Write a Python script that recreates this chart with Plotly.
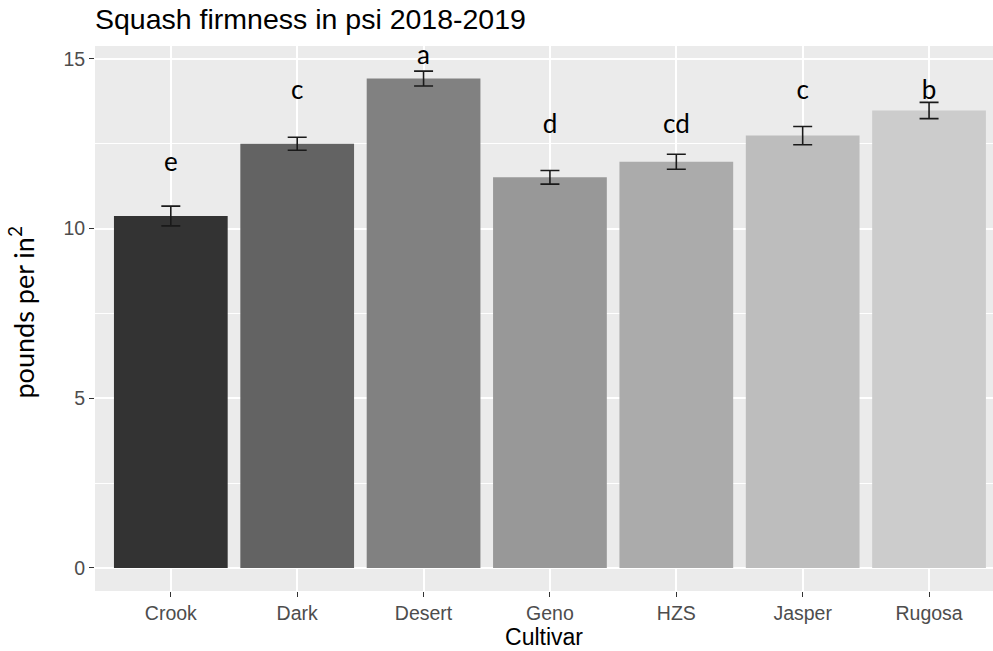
import plotly.graph_objects as go

# Squash firmness (psi) by cultivar, mean ± SE, 2018-2019
cultivars = ["Crook", "Dark", "Desert", "Geno", "HZS", "Jasper", "Rugosa"]
firmness = [10.37, 12.50, 14.42, 11.51, 11.97, 12.74, 13.48]
std_err = [0.29, 0.19, 0.22, 0.20, 0.22, 0.27, 0.24]
letters = ["e", "c", "a", "d", "cd", "c", "b"]
letter_y = [11.9, 14.0, 15.05, 13.0, 13.0, 14.0, 14.0]
bar_colors = ["#333333", "#636363", "#818181", "#989898", "#ABABAB", "#BDBDBD", "#CCCCCC"]
y_ticks = [0, 5, 10, 15]
y_minor = [2.5, 7.5, 12.5]

fig = go.Figure()

fig.add_trace(go.Bar(
    x=cultivars,
    y=firmness,
    marker=dict(color=bar_colors, line=dict(width=0)),
    width=0.9,
    error_y=dict(type="data", array=std_err, visible=True,
                 color="#1a1a1a", thickness=1.6, width=9.5),
    showlegend=False,
    hoverinfo="x+y",
))

# significance letters above each bar
fig.add_trace(go.Scatter(
    x=cultivars,
    y=letter_y,
    mode="text",
    text=letters,
    textposition="middle center",
    textfont=dict(family="Lato", size=26, color="#000000"),
    showlegend=False,
    hoverinfo="skip",
))

axis_font = dict(family="Liberation Sans, Arial", size=19.5, color="#4D4D4D")

fig.update_layout(
    width=993,
    height=651,
    margin=dict(l=95, r=0, t=46, b=60),
    paper_bgcolor="#FFFFFF",
    plot_bgcolor="#EBEBEB",
    bargap=0.1,
    title=dict(
        text="Squash firmness in psi 2018-2019",
        font=dict(family="Liberation Sans, Arial", size=28.5, color="#000000"),
        x=0, xref="paper", xanchor="left",
        y=1 - 19 / 651, yref="container", yanchor="middle",
    ),
    xaxis=dict(
        range=[-0.6, 6.506],
        showgrid=True, gridcolor="#FFFFFF", gridwidth=2,
        zeroline=False, showline=False,
        ticks="outside", ticklen=5, tickwidth=1.1, tickcolor="#333333",
        tickfont=axis_font,
        title=dict(text="Cultivar", standoff=2,
                   font=dict(family="Liberation Sans, Arial", size=23, color="#000000")),
    ),
    yaxis=dict(
        range=[-0.68, 15.38],
        tickvals=y_ticks,
        showgrid=True, gridcolor="#FFFFFF", gridwidth=2,
        minor=dict(tickvals=y_minor, showgrid=True,
                   gridcolor="#FFFFFF", gridwidth=1, ticks=""),
        zeroline=False, showline=False,
        ticks="outside", ticklen=5, tickwidth=1.1, tickcolor="#333333",
        tickfont=axis_font,
    ),
    annotations=[dict(
        text="pounds per in<sup>2</sup>",
        textangle=-90,
        xref="paper", x=0, xanchor="center", xshift=-74,
        yref="paper", y=(592 - 313) / 546, yanchor="middle",
        showarrow=False,
        font=dict(family="Lato", size=27, color="#000000"),
    )],
)

fig.write_html("out.html")
